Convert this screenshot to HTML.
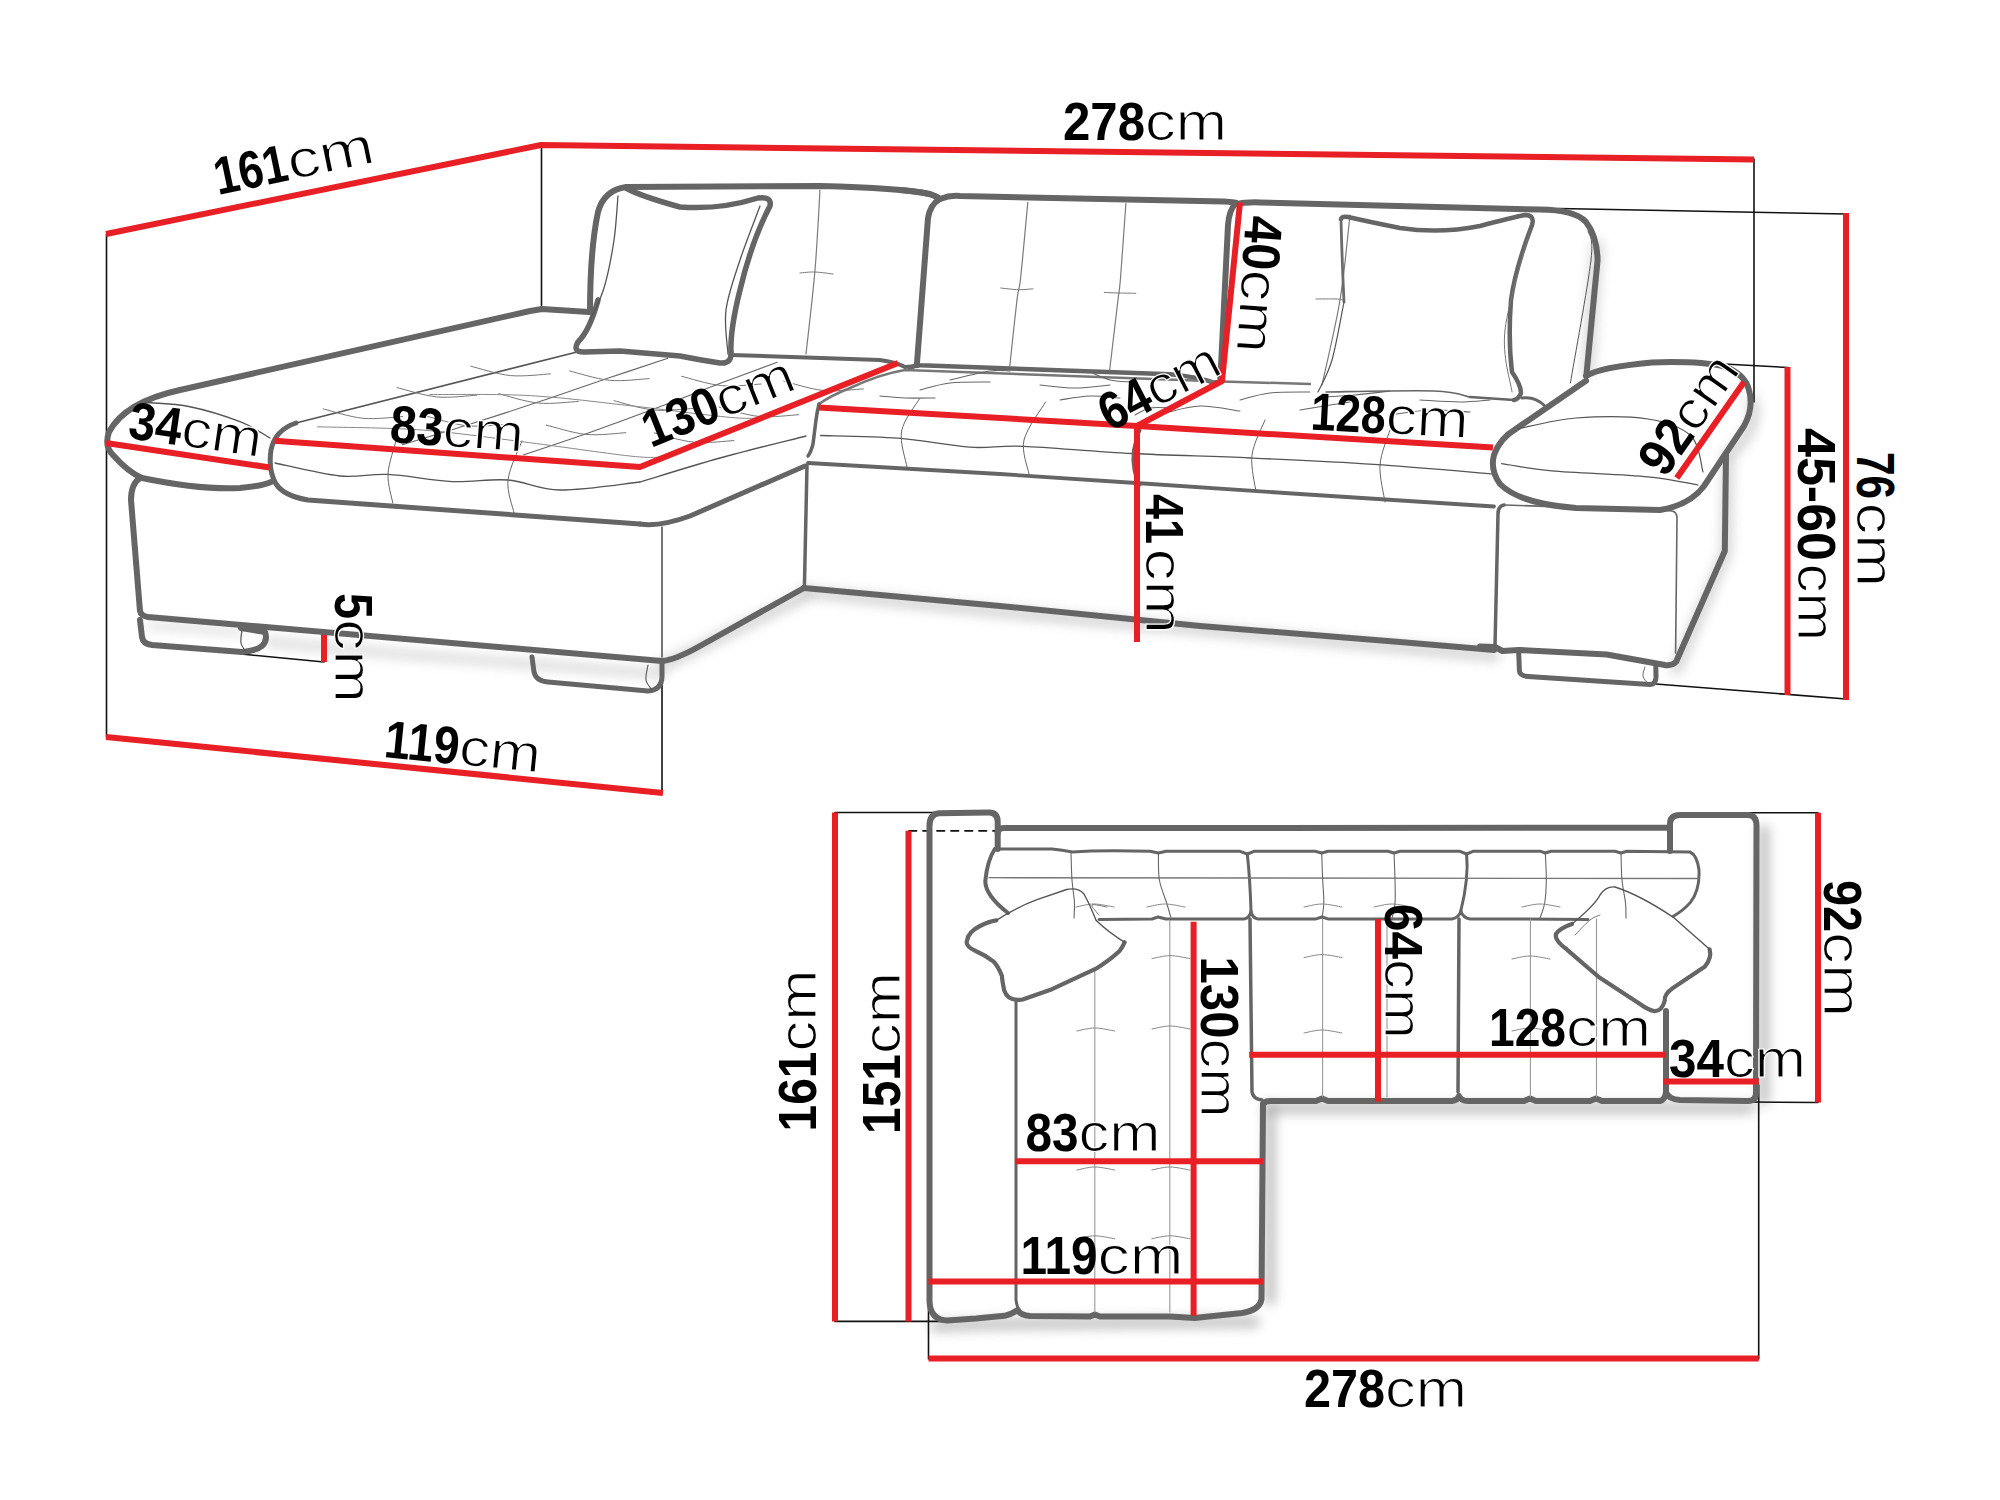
<!DOCTYPE html>
<html><head><meta charset="utf-8"><style>
html,body{margin:0;padding:0;background:#fff;width:2000px;height:1500px;overflow:hidden}
svg{display:block}
text{font-family:"Liberation Sans",sans-serif;fill:#000}
</style></head><body>
<svg width="2000" height="1500" viewBox="0 0 2000 1500" stroke-linecap="round" stroke-linejoin="round">
<defs>
<filter id="sh" filterUnits="userSpaceOnUse" x="0" y="0" width="2000" height="1500"><feGaussianBlur stdDeviation="6"/></filter>
</defs>
<path d="M1597 245 L1588 372" stroke="#888" stroke-width="10" fill="none" filter="url(#sh)" opacity="0.4"/>
<path d="M805 592 L1000 612 L1495 656" stroke="#888" stroke-width="10" fill="none" filter="url(#sh)" opacity="0.4"/>
<path d="M662 666 L805 596" stroke="#888" stroke-width="10" fill="none" filter="url(#sh)" opacity="0.4"/>
<path d="M1728 460 L1726 553 L1676 670" stroke="#888" stroke-width="10" fill="none" filter="url(#sh)" opacity="0.4"/>
<path d="M1752 400 Q1760 430 1728 455" stroke="#888" stroke-width="10" fill="none" filter="url(#sh)" opacity="0.4"/>
<path d="M268 642 L400 654 L662 674" stroke="#999" stroke-width="8" fill="none" filter="url(#sh)" opacity="0.4"/>
<path d="M150 625 L240 632" stroke="#999" stroke-width="6" fill="none" filter="url(#sh)" opacity="0.4"/>
<path d="M106.5 234 L106.5 737" stroke="#111" stroke-width="1.6" fill="none" />
<path d="M541.5 146 L541.5 310" stroke="#111" stroke-width="1.6" fill="none" />
<path d="M1754 159 L1754 402" stroke="#111" stroke-width="1.6" fill="none" />
<path d="M662 661 L662 793" stroke="#111" stroke-width="1.6" fill="none" />
<path d="M1559 208.5 L1846 214" stroke="#111" stroke-width="1.6" fill="none" />
<path d="M1724 364 L1788 367.5" stroke="#111" stroke-width="1.6" fill="none" />
<path d="M1656 684 L1846 699" stroke="#111" stroke-width="1.6" fill="none" />
<path d="M241 654 L324 662" stroke="#111" stroke-width="1.6" fill="none" />
<path d="M106 234 L541 145 L1754 159.5" stroke="#e81f25" stroke-width="6" fill="none" stroke-linecap="butt"/>
<path d="M106 737 L663 793" stroke="#e81f25" stroke-width="6" fill="none" stroke-linecap="butt"/>
<path d="M324 632 L324 662" stroke="#e81f25" stroke-width="6" fill="none" stroke-linecap="butt"/>
<path d="M1787.5 367 L1787.5 695" stroke="#e81f25" stroke-width="6" fill="none" stroke-linecap="butt"/>
<path d="M1846 213 L1846 700" stroke="#e81f25" stroke-width="6" fill="none" stroke-linecap="butt"/>
<path d="M589 312 L542 309 L530 311 L180 390 Q125 402 109 432 Q104 446 113 455 Q128 472 142 478 Q200 490 240 488 Q262 486 271 482" stroke="#656565" stroke-width="6" fill="none" />
<path d="M146.7 402.5 C153.9 403.2 174.4 403.5 190 406.7 C205.6 409.9 226.7 416.5 240 421.7 C253.3 426.9 265 435.3 270 438" stroke="#555" stroke-width="1.4" fill="none" />
<path d="M140 478 Q131 484 131 500 L140 611 Q141 616 148 617 L662 661" stroke="#656565" stroke-width="6" fill="none" />
<path d="M140 620 L142 637 Q143 644 152 645 L242 652" stroke="#656565" stroke-width="6" fill="none" />
<path d="M241 628 L265 632 Q268 640 262 646 Q256 651 242 652" stroke="#656565" stroke-width="6" fill="none" />
<path d="M242 630 C241.8 632.2 240.3 639.3 241 643 C241.7 646.7 245.2 650.5 246 652" stroke="#555" stroke-width="1.2" fill="none" />
<path d="M577 352 L296 423" stroke="#555" stroke-width="1.8" fill="none" />
<path d="M296 423 Q275 430 271 450 Q268 470 276 484 Q284 496 308 500 L640 524" stroke="#656565" stroke-width="5" fill="none" />
<path d="M731 355 L880 360 Q895 362 905 367 L918 366" stroke="#656565" stroke-width="4" fill="none" />
<path d="M275 463 C285.8 465.2 321.2 474.1 340 476 C358.8 477.9 369.3 473.5 388 474.4 C406.7 475.3 432 480.7 452 481.6 C472 482.5 490 478.6 508 480 C526 481.4 538 489.7 560 490 C582 490.3 626.7 483.3 640 482" stroke="#555" stroke-width="1.3" fill="none" />
<path d="M640 482 C653.3 478 692.3 465.7 720 458 C747.7 450.3 791.7 439.7 806 436" stroke="#555" stroke-width="1.3" fill="none" />
<path d="M396 440.8 C394.7 446.3 388.5 463.6 388 474 C387.5 484.4 392 498.2 392.8 503" stroke="#666" stroke-width="1.0" fill="none" />
<path d="M522 440.8 C519.7 447.3 509.3 468 508 480 C506.7 492 513 507.3 514 512.8" stroke="#666" stroke-width="1.0" fill="none" />
<path d="M640 524 Q660 527 690 516 L805 466" stroke="#656565" stroke-width="5" fill="none" />
<path d="M662 527 L662 657" stroke="#555" stroke-width="1.6" fill="none" />
<path d="M662 661 Q675 660 700 646 L804 588" stroke="#656565" stroke-width="6" fill="none" />
<path d="M532 657 L534 672 Q536 681 548 682 L648 691 Q662 690 662 676 L662 661" stroke="#656565" stroke-width="5" fill="none" />
<path d="M648 665 C647.7 667.5 645.3 675.8 646 680 C646.7 684.2 651 688.3 652 690" stroke="#555" stroke-width="1.1" fill="none" />
<path d="M590 312 Q590 250 598 212 Q604 190 626 187 L820 186 Q900 188 930 194 Q937 197 939.6 199" stroke="#656565" stroke-width="6" fill="none" />
<path d="M939.6 199 Q930 205 928 218 L917 363" stroke="#656565" stroke-width="6" fill="none" />
<path d="M900 190 Q935 193 940 199 Q950 195 960 196 L1224 201.5 Q1236 202 1238 204 Q1244 202 1260 202.4 L1540 209.6 Q1575 210 1586 222 Q1597 236 1597.6 260 L1586.4 375" stroke="#656565" stroke-width="6" fill="none" />
<path d="M1236 203 Q1229 210 1228 225 L1220.4 379" stroke="#656565" stroke-width="6" fill="none" />
<path d="M910 368 Q915 365 920 365.3 L1044 369.8 L1170 374.3 Q1200 377 1217 384" stroke="#656565" stroke-width="4.5" fill="none" />
<path d="M820 190 C819.2 203.3 817.3 242.7 815 270 C812.7 297.3 807.5 340 806 354" stroke="#7a7a7a" stroke-width="1.2" fill="none" />
<path d="M800 273 C802.5 272.8 809.5 271.8 815 272 C820.5 272.2 830 273.7 833 274" stroke="#7a7a7a" stroke-width="1.0" fill="none" />
<path d="M1027.8 202.4 C1026.6 215 1022.4 261.8 1020.6 278 C1018.8 294.2 1018.8 284.9 1017 299.6 C1015.2 314.3 1011 354.9 1009.8 366" stroke="#7a7a7a" stroke-width="1.2" fill="none" />
<path d="M1000.8 288 C1003.8 288.3 1013.4 289.6 1018.8 289.7 C1024.2 289.8 1030.6 288.9 1033 288.8" stroke="#7a7a7a" stroke-width="1.0" fill="none" />
<path d="M1125.9 203.3 C1125 215.8 1121.8 261.6 1120.5 278 C1119.2 294.4 1119.6 286.1 1117.8 301.4 C1116 316.7 1111 358.4 1109.7 369.8" stroke="#7a7a7a" stroke-width="1.2" fill="none" />
<path d="M1104.3 292.4 C1106.6 292.5 1112.8 292.9 1118 293 C1123.2 293.1 1132.8 293.2 1135.8 293.3" stroke="#7a7a7a" stroke-width="1.0" fill="none" />
<path d="M1350 215 C1348.3 229.2 1344.7 271.7 1340 300 C1335.3 328.3 1325 370.8 1322 385" stroke="#7a7a7a" stroke-width="1.2" fill="none" />
<path d="M1316 299 C1319.3 299 1331.5 298.8 1336 299 C1340.5 299.2 1341.8 299.8 1343 300" stroke="#7a7a7a" stroke-width="1.0" fill="none" />
<path d="M1588 231 C1588.5 235.8 1593.9 234.7 1591 260 C1588.1 285.3 1573.8 362.5 1570.4 383" stroke="#555" stroke-width="1.0" fill="none" />
<path d="M626 188 Q640 196 680 207 Q720 210 758 198 Q772 196 770 206 Q752 240 740 290 Q730 330 731 352 Q732 364 720 363 Q700 360 680 356 L620 351 L584 352 Q572 352 578 342 Q590 330 598 300" stroke="#656565" stroke-width="5.5" fill="none" />
<path d="M618 196 C617.3 203.3 616.3 224.7 614 240 C611.7 255.3 608 274.7 604 288 C600 301.3 592.3 314.7 590 320" stroke="#555" stroke-width="1.3" fill="none" />
<path d="M760 206 C756.7 215 745.7 242.7 740 260 C734.3 277.3 728 294.3 726 310 C724 325.7 727.7 346.7 728 354" stroke="#555" stroke-width="1.3" fill="none" />
<path d="M1341 219 Q1342 216 1348 217 Q1370 222 1400 228 Q1440 234 1480 226 Q1510 218 1525 215 Q1535 215 1532 225 Q1515 270 1511 300 Q1508 340 1512 372 Q1521 385 1521 393 Q1519 399 1514 400" stroke="#656565" stroke-width="4.5" fill="none" />
<path d="M1514 400 L1470 397" stroke="#656565" stroke-width="2.5" fill="none" />
<path d="M1341 219 Q1342 260 1344 302" stroke="#6b6b6b" stroke-width="2.8" fill="none" />
<path d="M1470 397 C1464 396 1458 391.8 1434 391 C1410 390.2 1344 391.8 1326 392" stroke="#666" stroke-width="1.6" fill="none" />
<path d="M1344 302 C1342 311.7 1336.3 345 1332 360 C1327.7 375 1320.3 386.7 1318 392" stroke="#555" stroke-width="1.2" fill="none" />
<path d="M1530 230 C1525.8 246.7 1508 303 1505 330 C1502 357 1510.8 381.7 1512 392" stroke="#777" stroke-width="1.0" fill="none" />
<path d="M1522 398 Q1535 396 1545 406" stroke="#656565" stroke-width="3" fill="none" />
<path d="M402.2 444.8 C413.7 441.3 448.1 431.1 471.2 423.8 C494.4 416.5 518.4 408.7 541.2 401.1 C563.9 393.5 586.6 385.4 607.7 378.3 C628.8 371.2 657.9 361.6 667.9 358.3" stroke="#666" stroke-width="1.1" fill="none" />
<path d="M523.7 454.8 C534.7 451.1 567.6 440.2 589.7 432.4 C611.9 424.6 634.8 416.2 656.4 408 C678.1 399.9 699.6 391.3 719.7 383.6 C739.8 376 767.5 365.8 777.1 362.2" stroke="#666" stroke-width="1.1" fill="none" />
<path d="M323.2 408.9 C329.8 410.5 349.7 417 363 418.3 C376.2 419.5 396.1 416.9 402.7 416.6" stroke="#777" stroke-width="1.0" fill="none" />
<path d="M397 387.6 C403.6 389.1 423.5 395.6 436.8 396.9 C450 398.2 469.9 395.5 476.6 395.2" stroke="#777" stroke-width="1.0" fill="none" />
<path d="M470.8 366.2 C477.4 367.8 497.3 374.3 510.6 375.6 C523.8 376.8 543.7 374.2 550.4 373.9" stroke="#777" stroke-width="1.0" fill="none" />
<path d="M427.7 416.5 C434.4 418.1 454.3 424.6 467.5 425.8 C480.8 427.1 500.7 424.4 507.3 424.2" stroke="#777" stroke-width="1.0" fill="none" />
<path d="M498.7 393.7 C505.3 395.3 525.2 401.8 538.5 403.1 C551.7 404.3 571.6 401.7 578.3 401.4" stroke="#777" stroke-width="1.0" fill="none" />
<path d="M569.7 371 C576.3 372.5 596.2 379 609.4 380.3 C622.7 381.6 642.6 378.9 649.2 378.6" stroke="#777" stroke-width="1.0" fill="none" />
<path d="M546.2 425.1 C552.9 426.6 572.8 433.1 586 434.4 C599.3 435.7 619.2 433 625.8 432.7" stroke="#777" stroke-width="1.0" fill="none" />
<path d="M614 400.7 C620.6 402.3 640.5 408.8 653.7 410 C667 411.3 686.9 408.6 693.5 408.4" stroke="#777" stroke-width="1.0" fill="none" />
<path d="M681.7 376.3 C688.3 377.9 708.2 384.4 721.5 385.6 C734.7 386.9 754.6 384.3 761.2 384" stroke="#777" stroke-width="1.0" fill="none" />
<path d="M654.3 432.9 C660.9 434.5 680.8 441 694 442.2 C707.3 443.5 727.2 440.9 733.8 440.6" stroke="#777" stroke-width="1.0" fill="none" />
<path d="M719.1 407.1 C725.7 408.6 745.6 415.1 758.8 416.4 C772.1 417.7 792 415 798.6 414.7" stroke="#777" stroke-width="1.0" fill="none" />
<path d="M783.8 381.2 C790.5 382.7 810.4 389.2 823.6 390.5 C836.9 391.8 856.8 389.1 863.4 388.9" stroke="#777" stroke-width="1.0" fill="none" />
<path d="M317.5 426.8 C335.2 427.4 388.2 427.5 423.6 430.1 C458.9 432.8 494.2 438.3 529.6 442.7 C564.9 447.1 612.1 454.4 635.6 456.6 C659.2 458.8 665.1 456 671 455.9" stroke="#888" stroke-width="1.0" fill="none" />
<path d="M430 394.5 C446.9 394.7 497.8 393.7 531.7 395.7 C565.6 397.6 599.5 402.4 633.4 406.1 C667.3 409.8 712.5 416.1 735.1 417.8 C757.7 419.6 763.4 416.6 769 416.4" stroke="#888" stroke-width="1.0" fill="none" />
<path d="M819 404 Q830 396 850 388 Q880 374 905 370 L1222 381.5 L1310 384" stroke="#777" stroke-width="2.5" fill="none" />
<path d="M819 404 Q817 412 816 420 L813 444 Q811 452 808 456" stroke="#656565" stroke-width="3.5" fill="none" />
<path d="M808 463 L1000 474 L1136 483 L1300 494 L1494 506.5" stroke="#656565" stroke-width="3.8" fill="none" />
<path d="M807 465 L804.4 588" stroke="#656565" stroke-width="3.5" fill="none" />
<path d="M804 588 L1000 606 L1200 626 L1400 642 L1494 650" stroke="#656565" stroke-width="6" fill="none" />
<path d="M820.6 435.5 C833.5 435.9 873.1 436.2 898 438.2 C922.9 440.1 949 445.8 970 447.2 C991 448.6 997 445.2 1024 446.3 C1051 447.4 1094.3 451.6 1132 453.5 C1169.7 455.4 1209.7 456.2 1250 458 C1290.3 459.8 1333.3 461.7 1374 464.4 C1414.7 467.1 1474 472.4 1494 474" stroke="#555" stroke-width="1.3" fill="none" />
<path d="M919.6 398.6 C916.6 404 903.7 419.6 901.6 431 C899.5 442.4 906.1 461 907 467" stroke="#666" stroke-width="1.0" fill="none" />
<path d="M1045.6 402 C1042 408.3 1026.8 428 1024 440 C1021.2 452 1028.2 468.3 1029 474" stroke="#666" stroke-width="1.0" fill="none" />
<path d="M1140 430 Q1130 450 1134 470 Q1136 480 1140 485" stroke="#656565" stroke-width="3" fill="none" />
<path d="M1265 420 C1262.8 425.8 1253.5 443 1252 455 C1250.5 467 1255.3 485.8 1256 492" stroke="#666" stroke-width="1.0" fill="none" />
<path d="M1390 430 C1388.3 435.8 1380.8 453 1380 465 C1379.2 477 1384.2 495.8 1385 502" stroke="#666" stroke-width="1.0" fill="none" />
<path d="M920 390 C925 388.8 938.3 384.3 950 383 C961.7 381.7 983.3 382.2 990 382" stroke="#666" stroke-width="1.1" fill="none" />
<path d="M880 396 C884.2 396.3 895.8 397.7 905 398 C914.2 398.3 930 398 935 398" stroke="#666" stroke-width="1.1" fill="none" />
<path d="M950 380 C956.7 378.5 980 372.5 990 371 C1000 369.5 1006.7 371 1010 371" stroke="#666" stroke-width="1.1" fill="none" />
<path d="M1040 385 C1045.8 385.5 1063.3 388 1075 388 C1086.7 388 1104.2 385.5 1110 385" stroke="#666" stroke-width="1.1" fill="none" />
<path d="M1060 400 C1065 399.3 1080 396.3 1090 396 C1100 395.7 1115 397.7 1120 398" stroke="#666" stroke-width="1.1" fill="none" />
<path d="M1090 372 C1093.3 373.3 1103.3 378.3 1110 380 C1116.7 381.7 1126.7 381.7 1130 382" stroke="#666" stroke-width="1.1" fill="none" />
<path d="M1165 413 C1170.8 411.8 1187.5 406.3 1200 406 C1212.5 405.7 1233.3 410.2 1240 411" stroke="#666" stroke-width="1.1" fill="none" />
<path d="M1240 400 C1245 398.8 1258.3 394.3 1270 393 C1281.7 391.7 1303.3 392.2 1310 392" stroke="#666" stroke-width="1.1" fill="none" />
<path d="M1300 410 C1305 409.2 1321.7 406.3 1330 405 C1338.3 403.7 1346.7 402.5 1350 402" stroke="#666" stroke-width="1.1" fill="none" />
<path d="M1325 397 C1330 396.7 1344.2 396 1355 395 C1365.8 394 1384.2 391.7 1390 391" stroke="#666" stroke-width="1.1" fill="none" />
<path d="M1420 400 C1426.7 400.3 1448.3 402 1460 402 C1471.7 402 1485 400.3 1490 400" stroke="#666" stroke-width="1.1" fill="none" />
<path d="M1390 415 C1396.7 414.2 1416.7 410.5 1430 410 C1443.3 409.5 1463.3 411.7 1470 412" stroke="#666" stroke-width="1.1" fill="none" />
<path d="M1135 415 C1137.5 413.8 1144.2 409.2 1150 408 C1155.8 406.8 1166.7 408 1170 408" stroke="#666" stroke-width="1.1" fill="none" />
<path d="M1586 376 Q1600 367 1652 362.4 Q1700 361 1724 366.4 Q1745 374 1749 390 Q1754 408 1744 426 L1704 486 Q1690 505 1660 510 L1576 508 Q1520 504 1500 484 Q1490 470 1494 455 Q1500 438 1516 428.8 L1586 380.8" stroke="#656565" stroke-width="6" fill="none" />
<path d="M1518 428.8 C1527.7 427 1554.3 419.6 1576 418 C1597.7 416.4 1628.8 416 1648 419 C1667.2 422 1681.8 427.2 1691 436 C1700.2 444.8 1701 466 1703 472" stroke="#555" stroke-width="1.2" fill="none" />
<path d="M1501.6 463.6 C1510 464.8 1527.6 468.6 1552 470.8 C1576.4 473 1623.7 474.4 1648 476.8 C1672.3 479.2 1689.7 483.6 1698 485" stroke="#555" stroke-width="1.2" fill="none" />
<path d="M1726 455 L1724.8 551 L1676 662 Q1672 666 1665 665 L1606.7 654.5 L1518.7 650 L1502.5 651 L1495 647 L1480 646.5" stroke="#656565" stroke-width="6" fill="none" />
<path d="M1504 505 Q1498 506 1498 514 L1495 646" stroke="#656565" stroke-width="3.5" fill="none" />
<path d="M1505 505 L1670 510.8 Q1677 511 1677 518 L1675.6 653" stroke="#666" stroke-width="1.6" fill="none" />
<path d="M1518.7 652 L1519.4 671 Q1520 676 1528 676.5 L1650 684.6 Q1656 684 1656 677 L1655.8 666" stroke="#656565" stroke-width="5" fill="none" />
<path d="M1645 667 C1644.7 668.5 1642.5 673.2 1643 676 C1643.5 678.8 1647.2 682.7 1648 684" stroke="#666" stroke-width="1.0" fill="none" />
<path d="M106 443 L270 467.5" stroke="#e81f25" stroke-width="6" fill="none" stroke-linecap="butt"/>
<path d="M274.4 440.8 L640 467 L898 363" stroke="#e81f25" stroke-width="6" fill="none" stroke-linecap="butt"/>
<path d="M818.8 407.6 L1137 426 L1222 381 L1240 202.5" stroke="#e81f25" stroke-width="6" fill="none" stroke-linecap="butt"/>
<path d="M1137 426 L1493 447.5" stroke="#e81f25" stroke-width="6" fill="none" stroke-linecap="butt"/>
<path d="M1137 426 L1137 642" stroke="#e81f25" stroke-width="6" fill="none" stroke-linecap="butt"/>
<path d="M1676.8 478 L1744 382" stroke="#e81f25" stroke-width="6" fill="none" stroke-linecap="butt"/>
<path d="M935 1326 L1000 1324 L1255 1322" stroke="#777" stroke-width="10" fill="none" filter="url(#sh)" opacity="0.5"/>
<path d="M1268 1108 L1750 1108" stroke="#777" stroke-width="10" fill="none" filter="url(#sh)" opacity="0.5"/>
<path d="M1764 830 L1764 1100" stroke="#777" stroke-width="10" fill="none" filter="url(#sh)" opacity="0.5"/>
<path d="M1270 1110 L1270 1300" stroke="#777" stroke-width="10" fill="none" filter="url(#sh)" opacity="0.5"/>
<path d="M835 812.5 L939 812.5" stroke="#111" stroke-width="1.6" fill="none" />
<path d="M909 830.8 H997" stroke="#111" stroke-width="1.8" fill="none" stroke-dasharray="7.5 6.5"/>
<path d="M835 1321.4 L944 1321.4" stroke="#111" stroke-width="1.6" fill="none" />
<path d="M928.5 1308 L928.5 1359" stroke="#111" stroke-width="1.6" fill="none" />
<path d="M1741.6 812.8 L1818 812.8" stroke="#111" stroke-width="1.6" fill="none" />
<path d="M1748 1102 L1818 1102.5" stroke="#111" stroke-width="1.6" fill="none" />
<path d="M1758.7 1085 L1758.7 1359" stroke="#111" stroke-width="1.6" fill="none" />
<path d="M997.7 849 V822 Q997.7 812.5 989 812.5 L939 813.2 Q929.5 814 929.5 826 L929.5 1301 Q930 1320 947.5 1320.5 L976 1318.6 L1004.5 1315.8 Q1012 1314 1017.8 1310 Q1020 1315 1030 1316 L1090 1316.5 L1094.8 1314.5 L1100 1316.5 L1169.8 1316.5 L1194.5 1318 L1242 1313 Q1260 1310 1261.5 1299 L1263 1104" stroke="#656565" stroke-width="6" fill="none" />
<path d="M997.7 833 Q998 828 1004 828 L1668 827.7" stroke="#656565" stroke-width="6" fill="none" />
<path d="M1670 851 V824 Q1670 815 1680 815 L1748 815 Q1756.5 815 1756.5 826 L1756 1093 Q1756 1101 1748 1101 L1680 1100 Q1668 1099 1666 1092 L1666 1011" stroke="#656565" stroke-width="6" fill="none" />
<path d="M1263 1106 Q1263 1101 1270 1101 L1316 1101 L1322 1098.5 L1328 1101 L1452 1101 Q1458 1100 1459 1096 Q1461 1101 1468 1101 L1524 1101 L1530 1098.5 L1536 1101 L1590 1101 L1596 1098.5 L1602 1101 L1660 1101 Q1665 1100 1666 1092" stroke="#656565" stroke-width="6" fill="none" />
<path d="M1250 919 L1252 1092 Q1253 1099 1262 1100" stroke="#656565" stroke-width="3.5" fill="none" />
<path d="M1459 919 L1458 1092" stroke="#656565" stroke-width="3.5" fill="none" />
<path d="M994.8 849 L1052 849 Q1062 850 1072.5 852 Q1100 850 1150 851.3 L1158.4 853 L1166 851.3 L1240 851.3 L1247.3 854 L1254 851.3 L1315 851.3 L1321.7 853 L1328 851.3 L1388 851.3 L1394 853 L1400 851.3 L1460 851.3 L1466.6 854 L1473 851.3 L1540 851.2 L1545.3 853 L1551 851.2 L1615 851.2 L1621 853 L1627 851.2 L1690 852 Q1697 855 1699 870 Q1700 890 1690.4 902.4 Q1684 910 1673.3 916.3" stroke="#656565" stroke-width="3" fill="none" />
<path d="M994.8 849 Q987.5 860 985.3 880.7 Q985 895 1008 913" stroke="#656565" stroke-width="4" fill="none" />
<path d="M1099 919.5 L1152 919 L1158 917 L1166 919 L1244 918.9 Q1250 918 1251 911 Q1252 918 1258 918.9 L1316 918.9 L1322 917 L1328 918.9 L1452 918.9 Q1459 918 1460.8 911 Q1463 918 1470 918.9 L1524 919 L1588 919.5" stroke="#656565" stroke-width="3" fill="none" />
<path d="M1247.3 854 Q1250 878 1251 911" stroke="#656565" stroke-width="3" fill="none" />
<path d="M1466.6 854 Q1469 878 1460.8 911" stroke="#656565" stroke-width="3" fill="none" />
<path d="M989 877.7 L1699 878.5" stroke="#777" stroke-width="1.3" fill="none" />
<path d="M1071 853 C1071.2 857.5 1071.4 871.7 1072 880 C1072.6 888.3 1074.2 896.7 1074.5 903 C1074.8 909.3 1074.1 915.5 1074 918" stroke="#666" stroke-width="1.1" fill="none" />
<path d="M1158.4 853 C1158.6 857.5 1158 871.7 1159.4 880 C1160.8 888.3 1164.8 896.7 1166.7 903 C1168.6 909.3 1170.3 915.5 1171 918" stroke="#666" stroke-width="1.1" fill="none" />
<path d="M1321.7 853 C1321.9 857.5 1322.3 871.7 1322.7 880 C1323.1 888.3 1324 896.7 1323.8 903 C1323.7 909.3 1322.3 915.5 1322 918" stroke="#666" stroke-width="1.1" fill="none" />
<path d="M1394 853 C1394.2 857.5 1394.8 871.7 1395 880 C1395.2 888.3 1395.5 896.7 1395 903 C1394.5 909.3 1392.5 915.5 1392 918" stroke="#666" stroke-width="1.1" fill="none" />
<path d="M1545.3 853 C1545.5 857.5 1546.4 871.7 1546.3 880 C1546.2 888.3 1545.7 896.7 1544.7 903 C1543.6 909.3 1540.8 915.5 1540 918" stroke="#666" stroke-width="1.1" fill="none" />
<path d="M1621 853 C1621.2 857.5 1621.2 871.7 1622 880 C1622.8 888.3 1624.8 896.7 1625.5 903 C1626.2 909.3 1625.9 915.5 1626 918" stroke="#666" stroke-width="1.1" fill="none" />
<path d="M1147 907 C1150 906.5 1158.7 904 1165 904 C1171.3 904 1181.7 906.5 1185 907" stroke="#888" stroke-width="1.0" fill="none" />
<path d="M1304 907 C1307 906.5 1315.7 904 1322 904 C1328.3 904 1338.7 906.5 1342 907" stroke="#888" stroke-width="1.0" fill="none" />
<path d="M1374 907 C1377 906.5 1385.7 904 1392 904 C1398.3 904 1408.7 906.5 1412 907" stroke="#888" stroke-width="1.0" fill="none" />
<path d="M1522 907 C1525 906.5 1533.7 904 1540 904 C1546.3 904 1556.7 906.5 1560 907" stroke="#888" stroke-width="1.0" fill="none" />
<path d="M1076 907 C1079 906.5 1087.7 904 1094 904 C1100.3 904 1110.7 906.5 1114 907" stroke="#888" stroke-width="1.0" fill="none" />
<path d="M1016 1000 L1016 1300 Q1017 1306 1018 1308" stroke="#656565" stroke-width="3" fill="none" />
<path d="M1094.8 968 C1094.8 998.3 1094.8 1092.7 1094.8 1150 C1094.8 1207.3 1094.8 1285 1094.8 1312" stroke="#999" stroke-width="1.1" fill="none" />
<path d="M1169.8 920 C1169.8 958.3 1169.8 1084.7 1169.8 1150 C1169.8 1215.3 1169.8 1285 1169.8 1312" stroke="#999" stroke-width="1.1" fill="none" />
<path d="M1322.6 919 C1322.6 934.2 1322.6 980.3 1322.6 1010 C1322.6 1039.7 1322.6 1082.5 1322.6 1097" stroke="#999" stroke-width="1.1" fill="none" />
<path d="M1387 919 C1387 934.2 1387 980.3 1387 1010 C1387 1039.7 1387 1082.5 1387 1097" stroke="#999" stroke-width="1.1" fill="none" />
<path d="M1530.4 919 C1530.4 934.2 1530.4 980.3 1530.4 1010 C1530.4 1039.7 1530.4 1082.5 1530.4 1097" stroke="#999" stroke-width="1.1" fill="none" />
<path d="M1596.5 919 C1596.5 934.2 1596.5 980.3 1596.5 1010 C1596.5 1039.7 1596.5 1082.5 1596.5 1097" stroke="#999" stroke-width="1.1" fill="none" />
<path d="M1076.8 1170 C1079.8 1169.5 1088.5 1167 1094.8 1167 C1101.1 1167 1111.5 1169.5 1114.8 1170" stroke="#888" stroke-width="1.0" fill="none" />
<path d="M1151.8 1170 C1154.8 1169.5 1163.5 1167 1169.8 1167 C1176.1 1167 1186.5 1169.5 1189.8 1170" stroke="#888" stroke-width="1.0" fill="none" />
<path d="M1076.8 1238.8 C1079.8 1238.3 1088.5 1235.8 1094.8 1235.8 C1101.1 1235.8 1111.5 1238.3 1114.8 1238.8" stroke="#888" stroke-width="1.0" fill="none" />
<path d="M1151.8 1238.8 C1154.8 1238.3 1163.5 1235.8 1169.8 1235.8 C1176.1 1235.8 1186.5 1238.3 1189.8 1238.8" stroke="#888" stroke-width="1.0" fill="none" />
<path d="M1152 958.6 C1155 958.1 1163.7 955.6 1170 955.6 C1176.3 955.6 1186.7 958.1 1190 958.6" stroke="#888" stroke-width="1.0" fill="none" />
<path d="M1152 1029 C1155 1028.5 1163.7 1026 1170 1026 C1176.3 1026 1186.7 1028.5 1190 1029" stroke="#888" stroke-width="1.0" fill="none" />
<path d="M1304 957.6 C1307 957.1 1315.7 954.6 1322 954.6 C1328.3 954.6 1338.7 957.1 1342 957.6" stroke="#888" stroke-width="1.0" fill="none" />
<path d="M1304 1033 C1307 1032.5 1315.7 1030 1322 1030 C1328.3 1030 1338.7 1032.5 1342 1033" stroke="#888" stroke-width="1.0" fill="none" />
<path d="M1512 959 C1515 958.5 1523.7 956 1530 956 C1536.3 956 1546.7 958.5 1550 959" stroke="#888" stroke-width="1.0" fill="none" />
<path d="M1512 1031 C1515 1030.5 1523.7 1028 1530 1028 C1536.3 1028 1546.7 1030.5 1550 1031" stroke="#888" stroke-width="1.0" fill="none" />
<path d="M1076.8 1031 C1079.8 1030.5 1088.5 1028 1094.8 1028 C1101.1 1028 1111.5 1030.5 1114.8 1031" stroke="#888" stroke-width="1.0" fill="none" />
<path d="M1124.6 942.3 Q1122 948 1119.5 951 Q1110 960 1096 968.7 L1052 989.2 L1022.7 999.5 Q1008 1002 1004.3 990.7 Q1002 980 1002 976 Q998 966 993.3 961.3 Q985 955 975.7 951 Q965 946 967 940.8 Q968 932 980 926 Q990 921 996.3 920.3" stroke="#656565" stroke-width="4.2" fill="none" />
<path d="M996.3 920.3 Q1015 908 1037 899.7 L1066.7 889.5 Q1078 887 1084 894 Q1090 905 1096 920.3 Q1108 932 1124.6 942.3" stroke="#555" stroke-width="1.4" fill="none" />
<path d="M1099 915 C1097.8 913.3 1090.7 906.3 1092 905 C1093.3 903.7 1104.5 906.7 1107 907" stroke="#777" stroke-width="1.0" fill="none" />
<path d="M1709.6 949.3 Q1712 958 1705 966.4 L1673.3 987.7 Q1664 994 1664.8 1000.5 Q1662 1011 1655 1011.2 Q1648 1010 1640 1004 L1598.7 977 L1566.7 949.3 Q1554 940 1556 934 Q1560 928 1572 924" stroke="#656565" stroke-width="4.2" fill="none" />
<path d="M1572 924 Q1595 905 1600 895 Q1606 886 1615 887 Q1640 895 1673.3 917.3 L1709.6 949.3" stroke="#555" stroke-width="1.4" fill="none" />
<path d="M1575 935 C1577.5 932.5 1585.8 923.3 1590 920 C1594.2 916.7 1598.3 915.8 1600 915" stroke="#777" stroke-width="1.0" fill="none" />
<path d="M835 812.5 L835 1321.4" stroke="#e81f25" stroke-width="6" fill="none" stroke-linecap="butt"/>
<path d="M908.5 830.8 L908.5 1321.4" stroke="#e81f25" stroke-width="6" fill="none" stroke-linecap="butt"/>
<path d="M1193.6 921.8 L1193.6 1315.7" stroke="#e81f25" stroke-width="6" fill="none" stroke-linecap="butt"/>
<path d="M1015 1161.2 L1263 1161.2" stroke="#e81f25" stroke-width="6" fill="none" stroke-linecap="butt"/>
<path d="M928.5 1281.5 L1263 1281.5" stroke="#e81f25" stroke-width="6" fill="none" stroke-linecap="butt"/>
<path d="M928.5 1358.6 L1758.7 1358.6" stroke="#e81f25" stroke-width="6" fill="none" stroke-linecap="butt"/>
<path d="M1378 919 L1378 1101.5" stroke="#e81f25" stroke-width="6" fill="none" stroke-linecap="butt"/>
<path d="M1249.2 1054.8 L1666 1054.8" stroke="#e81f25" stroke-width="6" fill="none" stroke-linecap="butt"/>
<path d="M1663.7 1081.6 L1758.7 1081.6" stroke="#e81f25" stroke-width="6" fill="none" stroke-linecap="butt"/>
<path d="M1818 812.8 L1818 1102.5" stroke="#e81f25" stroke-width="6" fill="none" stroke-linecap="butt"/>
<g transform="translate(1063 139.5) rotate(0)"><text x="0" y="0" font-weight="bold" font-size="53" textLength="82" lengthAdjust="spacingAndGlyphs">278</text><text x="82" y="0" font-size="53" stroke="#fff" stroke-width="1.2" textLength="82" lengthAdjust="spacingAndGlyphs">cm</text></g>
<g transform="translate(218 195) rotate(-11.7)"><text x="0" y="0" font-weight="bold" font-size="53" textLength="74" lengthAdjust="spacingAndGlyphs">161</text><text x="74.5" y="0" font-size="53" stroke="#fff" stroke-width="1.2" textLength="87.5" lengthAdjust="spacingAndGlyphs">cm</text></g>
<g transform="translate(127 438) rotate(8.2)"><text x="0" y="0" font-weight="bold" font-size="53" textLength="53" lengthAdjust="spacingAndGlyphs">34</text><text x="53" y="0" font-size="53" stroke="#fff" stroke-width="1.2" textLength="81" lengthAdjust="spacingAndGlyphs">cm</text></g>
<g transform="translate(389 442) rotate(4.2)"><text x="0" y="0" font-weight="bold" font-size="53" textLength="53" lengthAdjust="spacingAndGlyphs">83</text><text x="53" y="0" font-size="53" stroke="#fff" stroke-width="1.2" textLength="81" lengthAdjust="spacingAndGlyphs">cm</text></g>
<g transform="translate(651 448) rotate(-22)"><text x="0" y="0" font-weight="bold" font-size="53" textLength="78" lengthAdjust="spacingAndGlyphs">130</text><text x="78" y="0" font-size="53" stroke="#fff" stroke-width="1.2" textLength="81" lengthAdjust="spacingAndGlyphs">cm</text></g>
<g transform="translate(1110 432) rotate(-27.4)"><text x="0" y="0" font-weight="bold" font-size="53" textLength="52" lengthAdjust="spacingAndGlyphs">64</text><text x="52" y="0" font-size="53" stroke="#fff" stroke-width="1.2" textLength="77" lengthAdjust="spacingAndGlyphs">cm</text></g>
<g transform="translate(1310 429.6) rotate(3)"><text x="0" y="0" font-weight="bold" font-size="53" textLength="75" lengthAdjust="spacingAndGlyphs">128</text><text x="75" y="0" font-size="53" stroke="#fff" stroke-width="1.2" textLength="83" lengthAdjust="spacingAndGlyphs">cm</text></g>
<g transform="translate(383 757) rotate(5.7)"><text x="0" y="0" font-weight="bold" font-size="53" textLength="75" lengthAdjust="spacingAndGlyphs">119</text><text x="75" y="0" font-size="53" stroke="#fff" stroke-width="1.2" textLength="82" lengthAdjust="spacingAndGlyphs">cm</text></g>
<g transform="translate(1665 479) rotate(-55)"><text x="0" y="0" font-weight="bold" font-size="53" textLength="54" lengthAdjust="spacingAndGlyphs">92</text><text x="54" y="0" font-size="53" stroke="#fff" stroke-width="1.2" textLength="79" lengthAdjust="spacingAndGlyphs">cm</text></g>
<g transform="translate(1246 215) rotate(94)"><text x="0" y="0" font-weight="bold" font-size="53" textLength="54" lengthAdjust="spacingAndGlyphs">40</text><text x="54" y="0" font-size="53" stroke="#fff" stroke-width="1.2" textLength="83" lengthAdjust="spacingAndGlyphs">cm</text></g>
<g transform="translate(1146 494) rotate(90)"><text x="0" y="0" font-weight="bold" font-size="53" textLength="50" lengthAdjust="spacingAndGlyphs">41</text><text x="54.5" y="0" font-size="53" stroke="#fff" stroke-width="1.2" textLength="85.5" lengthAdjust="spacingAndGlyphs">cm</text></g>
<g transform="translate(1798 428) rotate(90)"><text x="0" y="0" font-weight="bold" font-size="53" textLength="133" lengthAdjust="spacingAndGlyphs">45-60</text><text x="135.5" y="0" font-size="53" stroke="#fff" stroke-width="1.2" textLength="77.5" lengthAdjust="spacingAndGlyphs">cm</text></g>
<g transform="translate(1857 452) rotate(90)"><text x="0" y="0" font-weight="bold" font-size="53" textLength="47" lengthAdjust="spacingAndGlyphs">76</text><text x="50.5" y="0" font-size="53" stroke="#fff" stroke-width="1.2" textLength="84.5" lengthAdjust="spacingAndGlyphs">cm</text></g>
<g transform="translate(335 593) rotate(90)"><text x="0" y="0" font-weight="bold" font-size="53" textLength="26" lengthAdjust="spacingAndGlyphs">5</text><text x="26" y="0" font-size="53" stroke="#fff" stroke-width="1.2" textLength="84" lengthAdjust="spacingAndGlyphs">cm</text></g>
<g transform="translate(816 1131.5) rotate(-90)"><text x="0" y="0" font-weight="bold" font-size="53" textLength="80" lengthAdjust="spacingAndGlyphs">161</text><text x="80" y="0" font-size="53" stroke="#fff" stroke-width="1.2" textLength="82" lengthAdjust="spacingAndGlyphs">cm</text></g>
<g transform="translate(900 1134) rotate(-90)"><text x="0" y="0" font-weight="bold" font-size="53" textLength="80" lengthAdjust="spacingAndGlyphs">151</text><text x="80" y="0" font-size="53" stroke="#fff" stroke-width="1.2" textLength="82" lengthAdjust="spacingAndGlyphs">cm</text></g>
<g transform="translate(1201 956.5) rotate(90)"><text x="0" y="0" font-weight="bold" font-size="53" textLength="82" lengthAdjust="spacingAndGlyphs">130</text><text x="82" y="0" font-size="53" stroke="#fff" stroke-width="1.2" textLength="79" lengthAdjust="spacingAndGlyphs">cm</text></g>
<g transform="translate(1385 904) rotate(90)"><text x="0" y="0" font-weight="bold" font-size="53" textLength="55" lengthAdjust="spacingAndGlyphs">64</text><text x="55" y="0" font-size="53" stroke="#fff" stroke-width="1.2" textLength="80" lengthAdjust="spacingAndGlyphs">cm</text></g>
<g transform="translate(1824 880) rotate(90)"><text x="0" y="0" font-weight="bold" font-size="53" textLength="52" lengthAdjust="spacingAndGlyphs">92</text><text x="52" y="0" font-size="53" stroke="#fff" stroke-width="1.2" textLength="85" lengthAdjust="spacingAndGlyphs">cm</text></g>
<g transform="translate(1489 1046) rotate(0)"><text x="0" y="0" font-weight="bold" font-size="53" textLength="77" lengthAdjust="spacingAndGlyphs">128</text><text x="77" y="0" font-size="53" stroke="#fff" stroke-width="1.2" textLength="85" lengthAdjust="spacingAndGlyphs">cm</text></g>
<g transform="translate(1669 1077.3) rotate(0)"><text x="0" y="0" font-weight="bold" font-size="53" textLength="55" lengthAdjust="spacingAndGlyphs">34</text><text x="55" y="0" font-size="53" stroke="#fff" stroke-width="1.2" textLength="82" lengthAdjust="spacingAndGlyphs">cm</text></g>
<g transform="translate(1025.4 1151.3) rotate(0)"><text x="0" y="0" font-weight="bold" font-size="53" textLength="53" lengthAdjust="spacingAndGlyphs">83</text><text x="53" y="0" font-size="53" stroke="#fff" stroke-width="1.2" textLength="82" lengthAdjust="spacingAndGlyphs">cm</text></g>
<g transform="translate(1020.5 1273.5) rotate(0)"><text x="0" y="0" font-weight="bold" font-size="53" textLength="77" lengthAdjust="spacingAndGlyphs">119</text><text x="77" y="0" font-size="53" stroke="#fff" stroke-width="1.2" textLength="86" lengthAdjust="spacingAndGlyphs">cm</text></g>
<g transform="translate(1304 1407) rotate(0)"><text x="0" y="0" font-weight="bold" font-size="53" textLength="81" lengthAdjust="spacingAndGlyphs">278</text><text x="81" y="0" font-size="53" stroke="#fff" stroke-width="1.2" textLength="82" lengthAdjust="spacingAndGlyphs">cm</text></g>
</svg>
</body></html>
